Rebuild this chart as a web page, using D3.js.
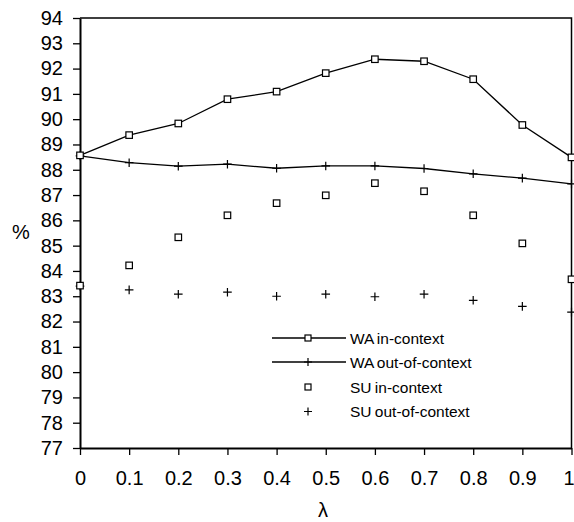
<!DOCTYPE html>
<html>
<head>
<meta charset="utf-8">
<script src="https://cdn.jsdelivr.net/npm/d3@7"></script>
<style>
  html, body { margin: 0; padding: 0; background: #fff; }
  svg { display: block; font-family: "Liberation Sans", Arial, sans-serif; }
  .axis path, .axis line { stroke: #000; }
  .axis text { fill: #000; }
</style>
</head>
<body>
<div id="chart"></div>
<script>
// ── Data ───────────────────────────────────────────────────────────────────
const lambdas   = [0, 0.1, 0.2, 0.3, 0.4, 0.5, 0.6, 0.7, 0.8, 0.9, 1];
const waIn      = [88.57, 89.37, 89.83, 90.79, 91.09, 91.82, 92.37, 92.29, 91.58, 89.77, 88.49];
const waOut     = [88.55, 88.28, 88.14, 88.22, 88.06, 88.15, 88.15, 88.05, 87.84, 87.67, 87.44];
const suIn      = [83.42, 84.22, 85.33, 86.20, 86.68, 86.99, 87.47, 87.15, 86.20, 85.09, 83.67];
const suOut     = [83.40, 83.25, 83.08, 83.16, 83.00, 83.08, 82.98, 83.08, 82.84, 82.60, 82.37];
const xTicks    = [0, 0.1, 0.2, 0.3, 0.4, 0.5, 0.6, 0.7, 0.8, 0.9, 1];
const yTicks    = d3.range(77, 95);
const seriesNames = ["WA in-context", "WA out-of-context", "SU in-context", "SU out-of-context"];

// ── Dimensions ─────────────────────────────────────────────────────────────
const width = 574, height = 522;
const margin = { top: 18, right: 2.5, bottom: 74, left: 80 };

const svg = d3.select("#chart").append("svg")
  .attr("width", width)
  .attr("height", height);

const x = d3.scaleLinear().domain([0, 1]).range([margin.left, width - margin.right]);
const y = d3.scaleLinear().domain([77, 94]).range([height - margin.bottom, margin.top]);

// ── Frame (top + right) ────────────────────────────────────────────────────
svg.append("path")
  .attr("d", `M${x(0)},${y(94)}H${x(1)}V${y(77)}`)
  .attr("fill", "none")
  .attr("stroke", "#000")
  .attr("stroke-width", 1.5);

// ── Axes ───────────────────────────────────────────────────────────────────
const yAxis = svg.append("g")
  .attr("class", "axis")
  .attr("transform", `translate(${x(0)},0)`)
  .call(d3.axisLeft(y).tickValues(yTicks).tickFormat(d3.format("d")).tickSize(7).tickSizeOuter(0).tickPadding(10));
yAxis.selectAll("text").style("font-size", "20px");

const xAxis = svg.append("g")
  .attr("class", "axis")
  .attr("transform", `translate(0,${y(77)})`)
  .call(d3.axisBottom(x).tickValues(xTicks).tickFormat(d => d === 0 || d === 1 ? d3.format("d")(d) : d3.format(".1f")(d)).tickSize(7).tickSizeOuter(0).tickPadding(16));
xAxis.selectAll("text").style("font-size", "20px");
// last label sits at the window edge; nudge it in so it is not clipped
xAxis.selectAll(".tick text").filter(d => d === 1).attr("dx", "-3");

svg.selectAll(".axis path.domain").attr("stroke-width", 2);
svg.selectAll(".axis line").attr("stroke-width", 1.3);

// Axis titles
svg.append("text")
  .attr("x", 21).attr("y", 232)
  .attr("text-anchor", "middle").attr("dominant-baseline", "central")
  .style("font-size", "20px")
  .text("%");

svg.append("text")
  .attr("x", 323).attr("y", 517)
  .attr("text-anchor", "middle")
  .style("font-size", "20px")
  .text("λ");

// ── Markers ────────────────────────────────────────────────────────────────
const SQ = 6.5, PL = 4.3;

function squares(g, vals) {
  g.selectAll(null).data(vals).enter().append("rect")
    .attr("x", (d, i) => x(lambdas[i]) - SQ / 2)
    .attr("y", d => y(d) - SQ / 2)
    .attr("width", SQ).attr("height", SQ)
    .attr("fill", "#fff").attr("stroke", "#000").attr("stroke-width", 1.2);
}

function pluses(g, vals) {
  g.selectAll(null).data(vals).enter().append("path")
    .attr("d", (d, i) => {
      const cx = x(lambdas[i]), cy = y(d);
      return `M${cx - PL},${cy}H${cx + PL}M${cx},${cy - PL}V${cy + PL}`;
    })
    .attr("stroke", "#000").attr("stroke-width", 1.2);
}

const line = d3.line().x((d, i) => x(lambdas[i])).y(d => y(d));

const plot = svg.append("g");

plot.append("path").datum(waIn).attr("d", line)
  .attr("fill", "none").attr("stroke", "#000").attr("stroke-width", 1.3);
plot.append("path").datum(waOut).attr("d", line)
  .attr("fill", "none").attr("stroke", "#000").attr("stroke-width", 1.3);

pluses(plot.append("g"), suOut);
squares(plot.append("g"), suIn);
pluses(plot.append("g"), waOut);
squares(plot.append("g"), waIn);

// ── Legend ─────────────────────────────────────────────────────────────────
const legend = svg.append("g");
const legX0 = 272, legX1 = 346, legMid = 308, legText = 350;
const legY = [338, 362, 387, 411.5];

seriesNames.forEach((name, i) => {
  const cy = legY[i];
  if (i < 2) {
    legend.append("line")
      .attr("x1", legX0).attr("x2", legX1).attr("y1", cy).attr("y2", cy)
      .attr("stroke", "#000").attr("stroke-width", 1.3);
  }
  if (i % 2 === 0) {
    legend.append("rect")
      .attr("x", legMid - 3).attr("y", cy - 3).attr("width", 6).attr("height", 6)
      .attr("fill", "#fff").attr("stroke", "#000").attr("stroke-width", 1.2);
  } else {
    legend.append("path")
      .attr("d", `M${legMid - 4},${cy}H${legMid + 4}M${legMid},${cy - 4}V${cy + 4}`)
      .attr("stroke", "#000").attr("stroke-width", 1.2);
  }
  legend.append("text")
    .attr("x", legText).attr("y", cy)
    .attr("dominant-baseline", "central")
    .style("font-size", "15.5px")
    .style("word-spacing", "-1px")
    .text(name);
});
</script>
</body>
</html>
